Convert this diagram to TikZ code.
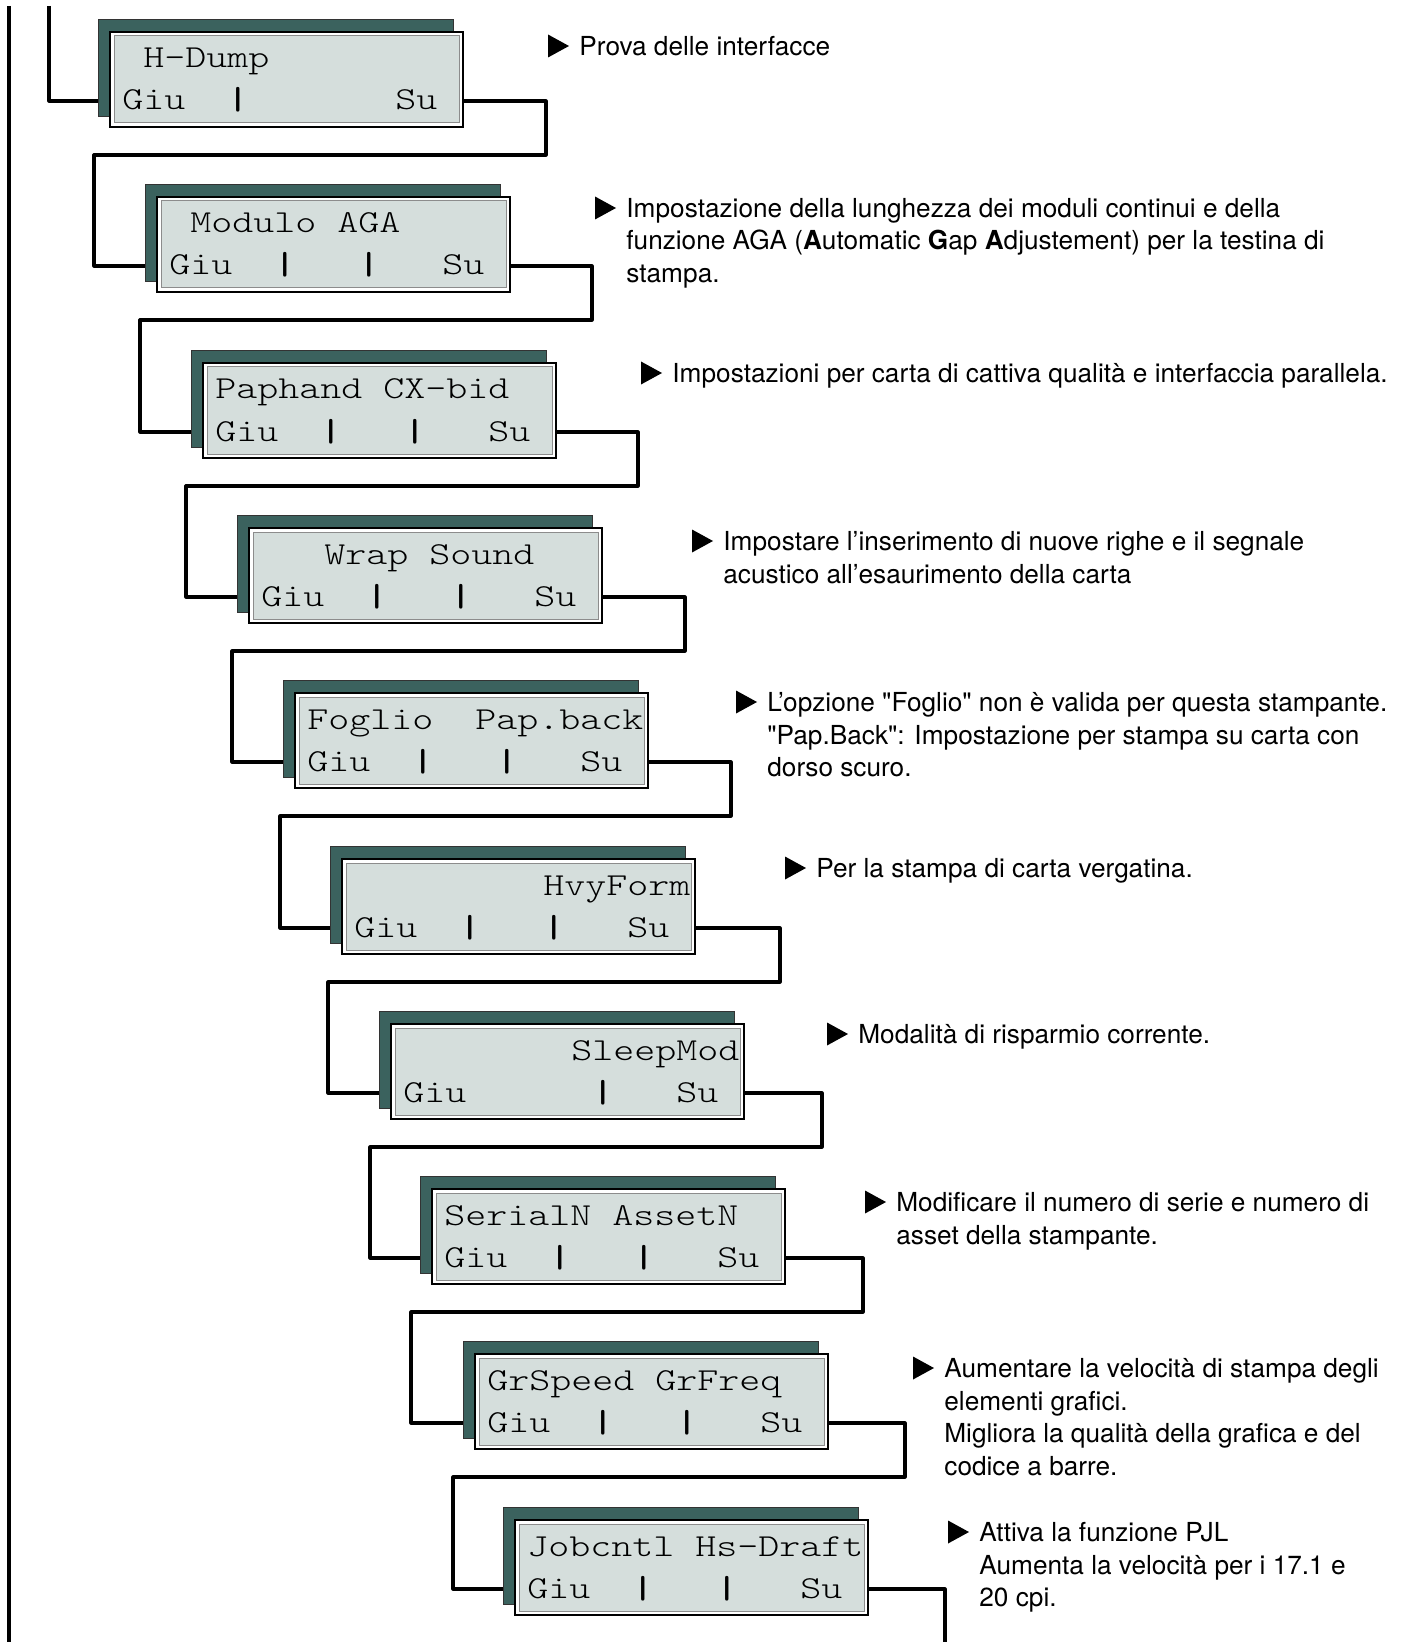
\documentclass[tikz,border=0pt]{standalone}
\usepackage{fontspec}
\newfontfamily\descfont{TeX Gyre Heros}
\newfontfamily\boxfont{lmmonolt10-regular.otf}[FakeStretch=1.25]
\newfontfamily\boxbold{lmmonolt10-bold.otf}[FakeStretch=1.25]
\newcommand\vb{{\boxbold|}}
\definecolor{lcd}{HTML}{D5DEDC}
\definecolor{shade}{HTML}{3B625E}
\tikzset{
  conn/.style={line width=1.6pt, line join=round},
  shadowbox/.style={fill=shade, draw=black!80, line width=0.4pt},
  lcdbox/.style={draw=black, line width=1.3pt, fill=white, minimum width=176.5pt,
    minimum height=47.5pt, inner sep=0pt, outer sep=0pt, anchor=north west},
  lcdinner/.style={draw=black!45, line width=0.5pt, fill=lcd},
  lcdtext/.style={font=\boxfont\fontsize{16}{18}\selectfont, anchor=base west, inner sep=0pt},
  desctext/.style={font=\descfont\fontsize{13.1}{16}\selectfont, anchor=base west, inner sep=0pt},
  tri/.style={fill=black}
}
\newcommand\lcdpanel[5]{%
  \filldraw[shadowbox] (#2-11,#3-12) rectangle ++(355,97);
  \node[lcdbox] (#1) at (#2+1,#3+1) {};
  \filldraw[lcdinner] (#2+5,#3+5) rectangle (#2+350,#3+92);
  \node[lcdtext] (#1a) at (#2+13,#3+37) {#4};
  \node[lcdtext] (#1b) at (#2+13,#3+79) {#5};
  \coordinate (#1in) at (#2-11,#3+70);
  \coordinate (#1out) at (#2+355,#3+70);
}
\newcommand\marker[3]{% name, x, yc
  \fill[tri] (#2,#3-11.5) -- (#2+21,#3) -- (#2,#3+11.5) -- cycle;
  \coordinate (#1) at (#2+31,#3+9.5);
}
\begin{document}
\begin{tikzpicture}[x=0.5pt,y=-0.5pt]
\useasboundingbox (0,0) rectangle (1409,1642);

% left rail
\draw[conn] (9,6) -- (9,1642);

% panels
\lcdpanel{b1}{109}{31}{~H-Dump}{Giu~~\vb~~~~~~~Su}
\lcdpanel{b2}{156}{196}{~Modulo~AGA}{Giu~~\vb~~~\vb~~~Su}
\lcdpanel{b3}{202}{362}{Paphand~CX-bid}{Giu~~\vb~~~\vb~~~Su}
\lcdpanel{b4}{248}{527}{~~~Wrap~Sound}{Giu~~\vb~~~\vb~~~Su}
\lcdpanel{b5}{294}{692}{Foglio~~Pap.back}{Giu~~\vb~~~\vb~~~Su}
\lcdpanel{b6}{341}{858}{~~~~~~~~~HvyForm}{Giu~~\vb~~~\vb~~~Su}
\lcdpanel{b7}{390}{1023}{~~~~~~~~SleepMod}{Giu~~~~~~\vb~~~Su}
\lcdpanel{b8}{431}{1188}{SerialN~AssetN}{Giu~~\vb~~~\vb~~~Su}
\lcdpanel{b9}{474}{1353}{GrSpeed~GrFreq}{Giu~~\vb~~~\vb~~~Su}
\lcdpanel{b10}{514}{1519}{Jobcntl~Hs-Draft}{Giu~~\vb~~~\vb~~~Su}

% connectors
\coordinate (start) at (49,6);
\draw[conn] (start) |- (b1in);
\draw[conn] (b1out) -- (546,101) -- (546,155) -- (94,155) -- (94,266) -- (b2in);
\draw[conn] (b2out) -- (592,266) -- (592,320) -- (140,320) -- (140,432) -- (b3in);
\draw[conn] (b3out) -- (638,432) -- (638,486) -- (186,486) -- (186,597) -- (b4in);
\draw[conn] (b4out) -- (685,597) -- (685,651) -- (232,651) -- (232,762) -- (b5in);
\draw[conn] (b5out) -- (731,762) -- (731,816) -- (280,816) -- (280,928) -- (b6in);
\draw[conn] (b6out) -- (780,928) -- (780,982) -- (328,982) -- (328,1093) -- (b7in);
\draw[conn] (b7out) -- (822,1093) -- (822,1147) -- (370,1147) -- (370,1258) -- (b8in);
\draw[conn] (b8out) -- (863,1258) -- (863,1312) -- (411,1312) -- (411,1423) -- (b9in);
\draw[conn] (b9out) -- (905,1423) -- (905,1477) -- (453,1477) -- (453,1589) -- (b10in);
\coordinate (end) at (945,1642);
\draw[conn] (b10out) -| (end);

% descriptions
\marker{m1}{548}{46}
\node[desctext] (d1) at (m1) {Prova delle interfacce};

\marker{m2}{595}{208}
\node[desctext] (d2a) at (m2) {Impostazione della lunghezza dei moduli continui e della};
\node[desctext] (d2b) at ([yshift=-16.25pt]m2) {funzione AGA (\textbf{A}utomatic \textbf{G}ap \textbf{A}djustement) per la testina di};
\node[desctext] (d2c) at ([yshift=-32.5pt]m2) {stampa.};

\marker{m3}{641}{373}
\node[desctext] (d3) at (m3) {Impostazioni per carta di cattiva qualità e interfaccia parallela.};

\marker{m4}{692}{541}
\node[desctext] (d4a) at (m4) {Impostare l’inserimento di nuove righe e il segnale};
\node[desctext] (d4b) at ([yshift=-16.25pt]m4) {acustico all’esaurimento della carta};

\marker{m5}{736}{702}
\node[desctext] (d5a) at (m5) {L’opzione "Foglio" non è valida per questa stampante.};
\node[desctext] (d5b) at ([yshift=-16.25pt]m5) {"Pap.Back": Impostazione per stampa su carta con};
\node[desctext] (d5c) at ([yshift=-32.5pt]m5) {dorso scuro.};

\marker{m6}{785}{868}
\node[desctext] (d6) at (m6) {Per la stampa di carta vergatina.};

\marker{m7}{827}{1034}
\node[desctext] (d7) at (m7) {Modalità di risparmio corrente.};

\marker{m8}{865}{1202}
\node[desctext] (d8a) at (m8) {Modificare il numero di serie e numero di};
\node[desctext] (d8b) at ([yshift=-16.25pt]m8) {asset della stampante.};

\marker{m9}{913}{1368}
\node[desctext] (d9a) at (m9) {Aumentare la velocità di stampa degli};
\node[desctext] (d9b) at ([yshift=-16.25pt]m9) {elementi grafici.};
\node[desctext] (d9c) at ([yshift=-32.5pt]m9) {Migliora la qualità della grafica e del};
\node[desctext] (d9d) at ([yshift=-48.75pt]m9) {codice a barre.};

\marker{m10}{948}{1532}
\node[desctext] (d10a) at (m10) {Attiva la funzione PJL};
\node[desctext] (d10b) at ([yshift=-16.25pt]m10) {Aumenta la velocità per i 17.1 e};
\node[desctext] (d10c) at ([yshift=-32.5pt]m10) {20 cpi.};
\end{tikzpicture}
\end{document}
